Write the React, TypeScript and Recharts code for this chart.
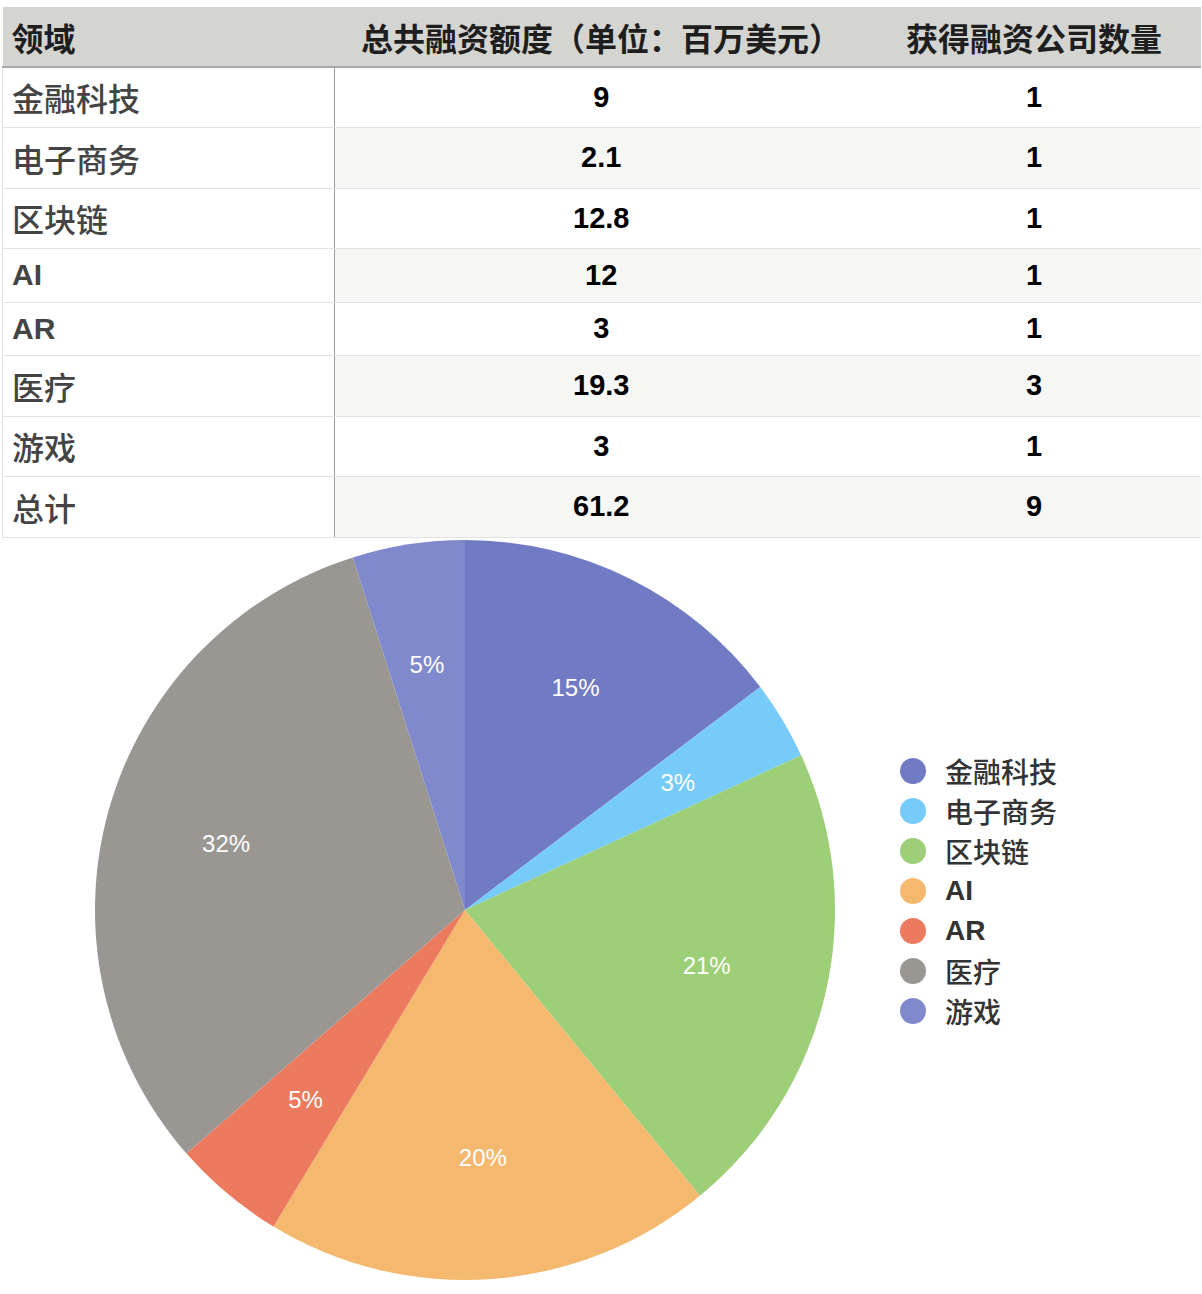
import { PieChart, Pie, Cell, Legend } from 'recharts';

const sectors = ['金融科技', '电子商务', '区块链', 'AI', 'AR', '医疗', '游戏'];
const amounts = [9, 2.1, 12.8, 12, 3, 19.3, 3];
const companies = [1, 1, 1, 1, 1, 3, 1];
const totalLabel = '总计';
const totalAmount = '61.2';
const totalCompanies = '9';
const headers = ['领域', '总共融资额度（单位：百万美元）', '获得融资公司数量'];
const colors = ['#717bc4', '#77cbf8', '#9dce78', '#f4b96e', '#ec7a5e', '#9a9793', '#8089cc'];

const rowHeights = [60, 61, 60, 54, 53, 61, 60, 61];

const pieData = sectors.map((name, i) => ({ name, value: amounts[i] }));

const font = '"Liberation Sans", Arial, "Noto Sans CJK SC", sans-serif';
const isLatin = (s: string) => /^[A-Za-z]+$/.test(s);
const RAD = Math.PI / 180;

const renderLabel = (props: any) => {
  const { cx, cy, midAngle, percent } = props;
  const r = 248;
  const x = cx + r * Math.cos(-midAngle * RAD);
  const y = cy + r * Math.sin(-midAngle * RAD);
  return (
    <text x={x} y={y} fill="#fff" fontSize={24} fontFamily={font} textAnchor="middle" dominantBaseline="central">
      {`${Math.round(percent * 100)}%`}
    </text>
  );
};

const renderLegend = () => (
  <div style={{ fontFamily: font }}>
    {sectors.map((name, i) => (
      <div key={name} style={{ height: 40, display: 'flex', alignItems: 'center' }}>
        <span style={{ width: 26, height: 26, borderRadius: 13, background: colors[i], display: 'inline-block' }} />
        <span
          style={{
            marginLeft: 19,
            fontSize: 28,
            color: '#333',
            fontWeight: isLatin(name) ? 'bold' : 500,
          }}
        >
          {name}
        </span>
      </div>
    ))}
  </div>
);

export default function App() {
  const rows = sectors.map((s, i) => [s, String(amounts[i]), String(companies[i])]);
  rows.push([totalLabel, totalAmount, totalCompanies]);

  const cellBase: React.CSSProperties = {
    padding: 0,
    borderBottom: '1px solid #e3e3e3',
    verticalAlign: 'middle',
  };

  return (
    <div style={{ position: 'absolute', left: 0, top: 0, width: 1202, height: 1294, background: '#fff', fontFamily: font }}>
      <table
        style={{
          position: 'absolute',
          left: 2,
          top: 7,
          width: 1198,
          borderCollapse: 'collapse',
          tableLayout: 'fixed',
        }}
      >
        <colgroup>
          <col style={{ width: 332 }} />
          <col style={{ width: 533 }} />
          <col style={{ width: 333 }} />
        </colgroup>
        <thead>
          <tr style={{ height: 60, background: '#d4d4d1' }}>
            {headers.map((h, i) => (
              <th
                key={h}
                style={{
                  padding: 0,
                  paddingLeft: i === 0 ? 9 : 0,
                  textAlign: i === 0 ? 'left' : 'center',
                  fontSize: 32,
                  fontWeight: 'bold',
                  color: '#1e1e1e',
                  borderBottom: '2px solid #a9a9a7',
                }}
              >
                {h}
              </th>
            ))}
          </tr>
        </thead>
        <tbody>
          {rows.map((r, i) => (
            <tr key={r[0]} style={{ height: rowHeights[i] }}>
              <td
                style={{
                  ...cellBase,
                  paddingLeft: 9,
                  fontSize: isLatin(r[0]) ? 30 : 32,
                  color: '#444',
                  fontWeight: isLatin(r[0]) ? 'bold' : 500,
                  borderRight: '1px solid #9c9c9c',
                  borderLeft: '1px solid #e3e3e3',
                  background: '#fff',
                }}
              >
                {r[0]}
              </td>
              {[1, 2].map((j) => (
                <td
                  key={j}
                  style={{
                    ...cellBase,
                    textAlign: 'center',
                    fontSize: 29,
                    fontWeight: 'bold',
                    color: '#000',
                    background: i % 2 === 1 ? '#f6f6f5' : '#fff',
                  }}
                >
                  {r[j]}
                </td>
              ))}
            </tr>
          ))}
        </tbody>
      </table>
      <div style={{ position: 'absolute', left: 0, top: 537 }}>
        <PieChart width={1202} height={757}>
          <Pie
            data={pieData}
            dataKey="value"
            nameKey="name"
            cx={460}
            cy={368}
            outerRadius={370}
            startAngle={90}
            endAngle={-270}
            stroke="none"
            label={renderLabel}
            labelLine={false}
            isAnimationActive={false}
          >
            {pieData.map((d, i) => (
              <Cell key={d.name} fill={colors[i]} />
            ))}
          </Pie>
          <Legend
            content={renderLegend}
            wrapperStyle={{ position: 'absolute', left: 900, top: 214, width: 250 }}
          />
        </PieChart>
      </div>
    </div>
  );
}
